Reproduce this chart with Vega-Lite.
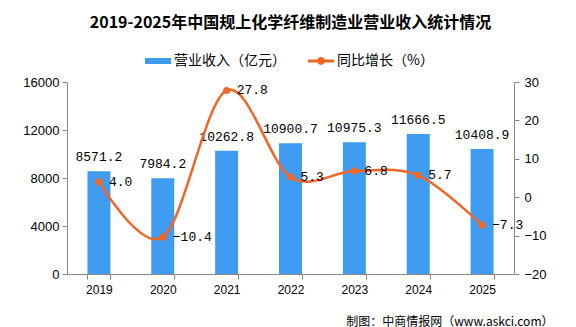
{
  "$schema": "https://vega.github.io/schema/vega-lite/v6.json",
  "width": 447,
  "height": 192,
  "autosize": {"type": "none"},
  "padding": {"left": 67, "top": 82, "right": 62, "bottom": 53},
  "background": "white",
  "title": {
    "text": "2019-2025年中国规上化学纤维制造业营业收入统计情况",
    "font": "Noto Sans CJK SC",
    "fontSize": 16,
    "fontWeight": "bold",
    "color": "#000000",
    "anchor": "middle",
    "offset": 17
  },
  "data": {
    "values": [
      {"year": "2019", "revenue": 8571.2, "growth": 4.0},
      {"year": "2020", "revenue": 7984.2, "growth": -10.4},
      {"year": "2021", "revenue": 10262.8, "growth": 27.8},
      {"year": "2022", "revenue": 10900.7, "growth": 5.3},
      {"year": "2023", "revenue": 10975.3, "growth": 6.8},
      {"year": "2024", "revenue": 11666.5, "growth": 5.7},
      {"year": "2025", "revenue": 10408.9, "growth": -7.3}
    ]
  },
  "encoding": {
    "x": {
      "field": "year",
      "type": "ordinal",
      "scale": {"paddingInner": 0.64, "paddingOuter": 0.32},
      "axis": {
        "title": "制图：中商情报网（www.askci.com）",
        "titleFont": "Noto Sans CJK SC",
        "titleFontSize": 12,
        "titleFontWeight": "normal",
        "titleColor": "#000000",
        "titleAlign": "right",
        "titleAnchor": "end",
        "titleX": 486,
        "titleY": 42,
        "labelAngle": 0,
        "labelFont": "Liberation Sans",
        "labelFontSize": 12,
        "labelColor": "#000000",
        "labelPadding": 5,
        "tickBand": "extent",
        "tickSize": 5,
        "tickColor": "#888888",
        "domainColor": "#888888",
        "grid": false
      }
    }
  },
  "layer": [
    {
      "encoding": {
        "y": {
          "field": "revenue",
          "type": "quantitative",
          "scale": {"domain": [0, 16000]},
          "axis": {
            "title": null,
            "values": [0, 4000, 8000, 12000, 16000],
            "format": "d",
            "labelOverlap": false,
            "grid": false,
            "labelFont": "Liberation Sans",
            "labelFontSize": 13,
            "labelColor": "#000000",
            "labelPadding": 3,
            "tickSize": 5,
            "tickColor": "#888888",
            "domainColor": "#888888"
          }
        }
      },
      "layer": [
        {
          "mark": {"type": "bar", "color": "#3f9cf0"},
          "encoding": {
            "color": {
              "datum": "营业收入（亿元）",
              "type": "nominal",
              "scale": {"domain": ["营业收入（亿元）", "同比增长（%）"], "range": ["#3f9cf0", "#f26522"]},
              "legend": {
                "title": null,
                "orient": "none",
                "legendX": 78,
                "legendY": -34,
                "direction": "horizontal",
                "labelFont": "Noto Sans CJK SC",
                "labelFontSize": 14,
                "labelColor": "#000000",
                "labelOffset": 3,
                "columnPadding": 22,
                "symbolSize": 676,
                "symbolStrokeWidth": 0,
                "encode": {
                  "symbols": {
                    "update": {
                      "shape": {"signal": "datum.value === '营业收入（亿元）' ? 'M-1,-0.23H1V0.23H-1Z' : 'M-1,-0.12H1V0.12H-1Z M0.3,0A0.3,0.3 0 1 1 -0.3,0A0.3,0.3 0 1 1 0.3,0Z'"},
                      "fill": {"signal": "datum.value === '营业收入（亿元）' ? '#3f9cf0' : '#f26522'"},
                      "stroke": {"value": "transparent"},
                      "opacity": {"value": 1}
                    }
                  }
                }
              }
            }
          }
        },
        {
          "mark": {"type": "text", "dy": -14, "font": "Liberation Mono", "fontSize": 13, "color": "#000000"},
          "encoding": {
            "text": {"field": "revenue", "type": "quantitative", "format": ".1f"}
          }
        }
      ]
    },
    {
      "encoding": {
        "y": {
          "field": "growth",
          "type": "quantitative",
          "scale": {"domain": [-20, 30]},
          "axis": {
            "title": null,
            "orient": "right",
            "values": [-20, -10, 0, 10, 20, 30],
            "labelOverlap": false,
            "grid": false,
            "labelFont": "Liberation Sans",
            "labelFontSize": 13,
            "labelColor": "#000000",
            "labelPadding": 5,
            "tickSize": 5,
            "tickColor": "#888888",
            "domainColor": "#888888"
          }
        }
      },
      "layer": [
        {
          "mark": {"type": "line", "interpolate": "cardinal", "strokeWidth": 2.5, "point": {"filled": true, "size": 50, "color": "#f26522"}},
          "encoding": {
            "color": {"datum": "同比增长（%）", "type": "nominal"}
          }
        },
        {
          "mark": {"type": "text", "align": "left", "baseline": "middle", "dx": 10, "font": "Liberation Mono", "fontSize": 13, "color": "#000000"},
          "encoding": {
            "text": {"field": "growth", "type": "quantitative", "format": ".1f"}
          }
        }
      ]
    }
  ],
  "resolve": {"scale": {"y": "independent"}},
  "config": {"view": {"stroke": null}}
}
